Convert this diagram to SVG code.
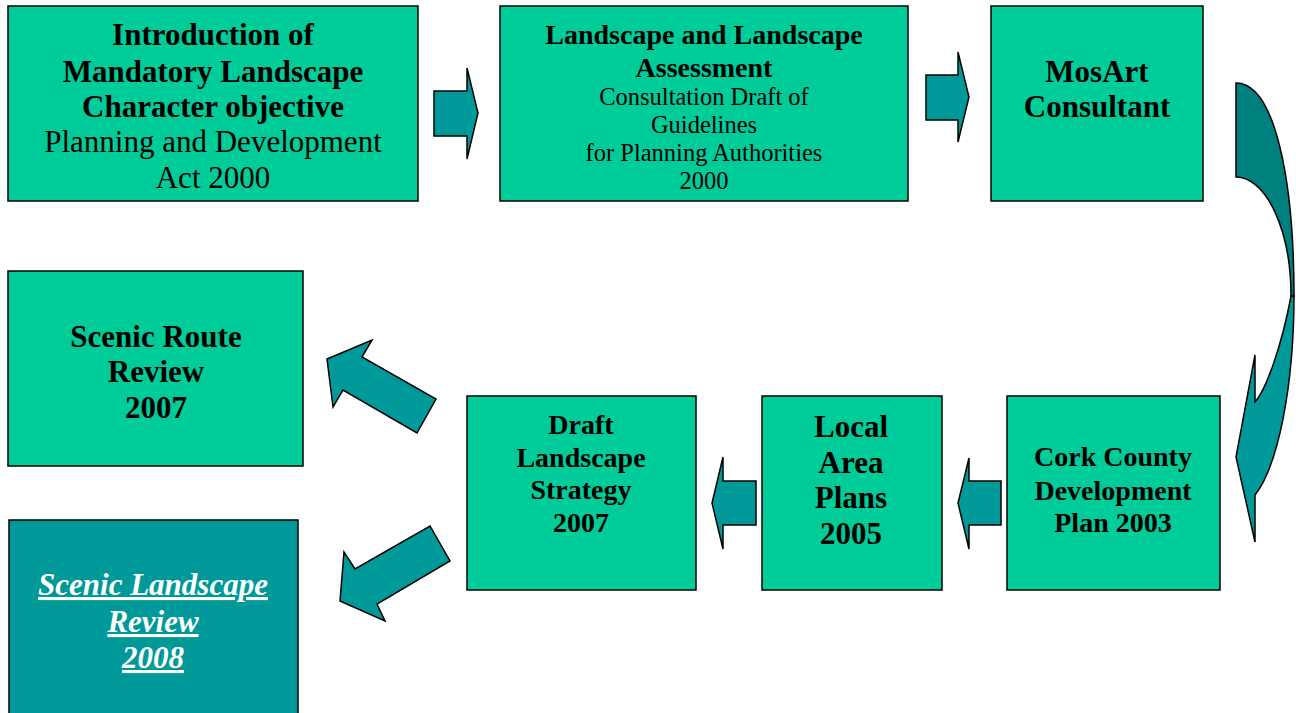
<svg xmlns="http://www.w3.org/2000/svg" width="1296" height="713" viewBox="0 0 1296 713">
<style>
.box{fill:#00CC99;stroke:#000;stroke-width:1.5}
.dark{fill:#009999;stroke:#000;stroke-width:1.5}
.arr{fill:#009999;stroke:#000;stroke-width:1.5;stroke-linejoin:miter}
.arrd{fill:#007F7F;stroke:#000;stroke-width:1.5}
text{font-family:"Liberation Serif","Times New Roman",serif;text-anchor:middle;fill:#000}
.b{font-weight:bold}
.w{fill:#fff;font-weight:bold;font-style:italic;text-decoration:underline}
</style>
<rect width="1296" height="713" fill="#fff"/>
<g id="connectors">
<polygon class="arr" points="434,91 467,91 467,68 478,113 467,159 467,136 434,136"/>
<polygon class="arr" points="926,75 958,75 958,52 969,97 958,142 958,120 926,120"/>
<polygon class="arr" points="1001,481 969,481 969,458 958,503 969,549 969,525 1001,525"/>
<polygon class="arr" points="756,481 723,481 723,457 712,503 723,549 723,525 756,525"/>
<polygon class="arr" points="327,359 372,340 362,357 436,399 417,433 343,390 333,407"/>
<polygon class="arr" points="340,601 344,552 355,569 430,526 450,561 377,604 385,621"/>
<path class="arr" d="M1294,296 A58,212 0 0 1 1255,495 L1255,542 L1236,457 L1255,355 L1255,402 C1266,390 1282,345 1291,296 Z"/>
<path class="arrd" d="M1236,83 C1275,83 1294,180 1294,296 L1291,296 A55,119 0 0 0 1236,177 Z"/>
</g>
<g id="n1">
<rect class="box" x="8" y="6" width="410" height="195"/>
<text x="213" y="45" class="b" font-size="31">Introduction of</text>
<text x="213" y="82" class="b" font-size="31">Mandatory Landscape</text>
<text x="213" y="117" class="b" font-size="31">Character objective</text>
<text x="213" y="152" font-size="31">Planning and Development</text>
<text x="213" y="188" font-size="31">Act 2000</text>
</g>
<g id="n2">
<rect class="box" x="500" y="6" width="408" height="195"/>
<text x="704" y="44" class="b" font-size="28">Landscape and Landscape</text>
<text x="704" y="77" class="b" font-size="28">Assessment</text>
<text x="704" y="105" font-size="24.5">Consultation Draft of</text>
<text x="704" y="133" font-size="24.5">Guidelines</text>
<text x="704" y="161" font-size="24.5">for Planning Authorities</text>
<text x="704" y="189" font-size="24.5">2000</text>
</g>
<g id="n3">
<rect class="box" x="991" y="6" width="212" height="195"/>
<text x="1097" y="82" class="b" font-size="31">MosArt</text>
<text x="1097" y="117" class="b" font-size="31">Consultant</text>
</g>
<g id="n4">
<rect class="box" x="8" y="271" width="295" height="195"/>
<text x="156" y="347" class="b" font-size="31">Scenic Route</text>
<text x="156" y="382" class="b" font-size="31">Review</text>
<text x="156" y="418" class="b" font-size="31">2007</text>
</g>
<g id="n5">
<rect class="box" x="467" y="396" width="229" height="194"/>
<text x="581" y="434" class="b" font-size="28">Draft</text>
<text x="581" y="467" class="b" font-size="28">Landscape</text>
<text x="581" y="499" class="b" font-size="28">Strategy</text>
<text x="581" y="532" class="b" font-size="28">2007</text>
</g>
<g id="n6">
<rect class="box" x="762" y="396" width="180" height="194"/>
<text x="851" y="437" class="b" font-size="31">Local</text>
<text x="851" y="473" class="b" font-size="31">Area</text>
<text x="851" y="508" class="b" font-size="31">Plans</text>
<text x="851" y="544" class="b" font-size="31">2005</text>
</g>
<g id="n7">
<rect class="box" x="1007" y="396" width="213" height="194"/>
<text x="1113" y="466" class="b" font-size="28">Cork County</text>
<text x="1113" y="500" class="b" font-size="28">Development</text>
<text x="1113" y="532" class="b" font-size="28">Plan 2003</text>
</g>
<g id="n8">
<rect class="dark" x="9" y="520" width="289" height="200"/>
<text x="153" y="595" class="w" font-size="31">Scenic Landscape</text>
<text x="153" y="632" class="w" font-size="31">Review</text>
<text x="153" y="668" class="w" font-size="31">2008</text>
</g>
</svg>
